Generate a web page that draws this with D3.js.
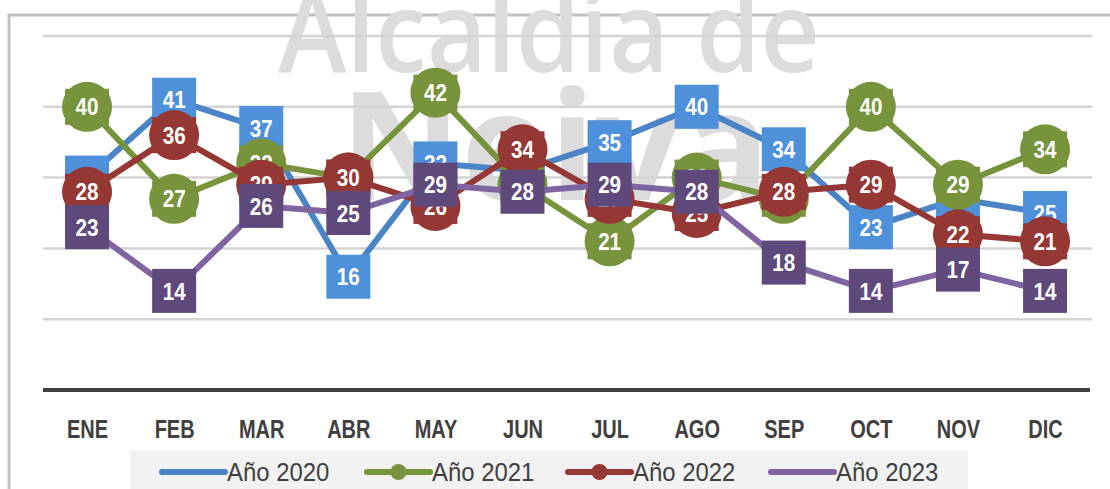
<!DOCTYPE html>
<html>
<head>
<meta charset="utf-8">
<script src="https://cdn.jsdelivr.net/npm/d3@7"></script>
<style>
  body { margin: 0; background: #fff; }
  svg { display: block; }
  text { font-family: "Liberation Sans", Arial, sans-serif; }
</style>
</head>
<body>
<div id="chart"></div>
<script>
// data ------------------------------
const months = ["ENE", "FEB", "MAR", "ABR", "MAY", "JUN", "JUL", "AGO", "SEP", "OCT", "NOV", "DIC"];
const y2020 = [30, 41, 37, 16, 32, 31, 35, 40, 34, 23, 27, 25];
const y2021 = [40, 27, 32, 30, 42, 29, 21, 30, 27, 40, 29, 34];
const y2022 = [28, 36, 29, 30, 26, 34, 27, 25, 28, 29, 22, 21];
const y2023 = [23, 14, 26, 25, 29, 28, 29, 28, 18, 14, 17, 14];
const yTicks = [10, 20, 30, 40, 50];

const series = [
  {name: "Año 2020", values: y2020, line: "#4a83c6", fill: "#4f90da", shape: "square"},
  {name: "Año 2021", values: y2021, line: "#77933c", fill: "#77933c", shape: "circle"},
  {name: "Año 2022", values: y2022, line: "#953735", fill: "#953735", shape: "circle"},
  {name: "Año 2023", values: y2023, line: "#8064a2", fill: "#5f497a", shape: "square"}
];

const width = 1110, height = 489;

const svg = d3.select("#chart")
  .append("svg")
  .attr("width", width)
  .attr("height", height);

// frame
svg.append("path")
  .attr("d", "M9,489 V15 H1110")
  .attr("fill", "none")
  .attr("stroke", "#c0c0c0")
  .attr("stroke-width", 3);

// watermark
svg.append("text")
  .attr("x", 549).attr("y", 72)
  .attr("text-anchor", "middle")
  .style("font-family", "'Open Sans', sans-serif")
  .style("font-weight", 600)
  .style("font-size", "112px")
  .attr("fill", "#dcdcdc")
  .attr("textLength", 542)
  .attr("lengthAdjust", "spacingAndGlyphs")
  .text("Alcaldía de");

svg.append("text")
  .attr("x", 555).attr("y", 200)
  .attr("text-anchor", "middle")
  .style("font-family", "'Open Sans', sans-serif")
  .style("font-weight", 700)
  .style("font-size", "150px")
  .attr("fill", "#dcdcdc")
  .attr("textLength", 430)
  .attr("lengthAdjust", "spacingAndGlyphs")
  .text("Neiva");

// scales
const x = d3.scalePoint()
  .domain(months)
  .range([43.5, 1088.6])
  .padding(0.5);

const y = d3.scaleLinear()
  .domain([0, 50])
  .range([390, 36]);

// gridlines
svg.append("g")
  .selectAll("line")
  .data(yTicks)
  .join("line")
  .attr("x1", 43).attr("x2", 1092)
  .attr("y1", d => y(d)).attr("y2", d => y(d))
  .attr("stroke", "#d4d4d4")
  .attr("stroke-width", 2.5);

// x axis
const xAxis = d3.axisBottom(x).tickSize(0).tickPadding(30);
const gx = svg.append("g")
  .attr("transform", `translate(0, ${y(0)})`)
  .call(xAxis);
gx.select(".domain")
  .attr("d", "M43,0H1090")
  .attr("stroke", "#404040")
  .attr("stroke-width", 4);
gx.selectAll("text")
  .attr("fill", "#404040")
  .attr("transform", "scale(0.8,1)")
  .style("font-size", "25px")
  .style("font-weight", "bold");

// series
const line = d3.line()
  .x((d, i) => x(months[i]))
  .y(d => y(d));

series.forEach(s => {
  const g = svg.append("g");
  g.append("path")
    .datum(s.values)
    .attr("d", line)
    .attr("fill", "none")
    .attr("stroke", s.line)
    .attr("stroke-width", 6)
    .attr("stroke-linejoin", "round");

  const pts = g.selectAll("g.pt")
    .data(s.values)
    .join("g")
    .attr("class", "pt")
    .attr("transform", (d, i) => `translate(${x(months[i])}, ${y(d)})`);

  if (s.shape === "circle") {
    pts.append("circle").attr("r", 25).attr("fill", s.fill);
  }
  pts.append("rect")
    .attr("x", -22).attr("y", s.shape === "circle" ? -18 : -22)
    .attr("width", 44).attr("height", s.shape === "circle" ? 36 : 44)
    .attr("fill", s.fill);

  pts.append("text")
    .attr("text-anchor", "middle")
    .attr("dy", "0.36em")
    .attr("transform", "scale(0.86,1)")
    .attr("fill", "#fff")
    .style("font-size", "24px")
    .style("font-weight", "bold")
    .text(d => d);
});

// legend
svg.append("rect")
  .attr("x", 130).attr("y", 450)
  .attr("width", 838).attr("height", 39)
  .attr("fill", "#f2f2f2");

const legendX = [162, 367, 568, 771];
const leg = svg.append("g")
  .selectAll("g")
  .data(series)
  .join("g")
  .attr("transform", (d, i) => `translate(${legendX[i]}, 472)`);

leg.append("line")
  .attr("x1", 0).attr("x2", 63)
  .attr("stroke", d => d.line)
  .attr("stroke-width", 6)
  .attr("stroke-linecap", "round");

leg.filter(d => d.shape === "circle")
  .append("circle")
  .attr("cx", 31.5).attr("r", 8)
  .attr("fill", d => d.fill);

leg.append("text")
  .attr("transform", "translate(65,0) scale(0.92,1)")
  .attr("dy", "0.36em")
  .attr("fill", "#404040")
  .style("font-size", "26px")
  .text(d => d.name);
</script>
</body>
</html>
